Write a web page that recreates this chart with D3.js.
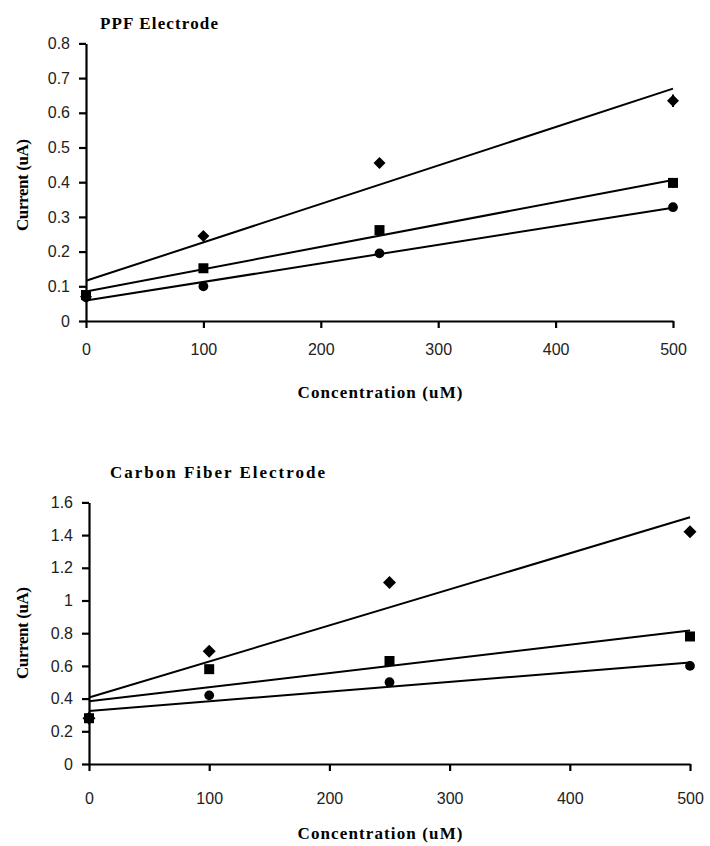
<!DOCTYPE html>
<html>
<head>
<meta charset="utf-8">
<script src="https://cdn.jsdelivr.net/npm/d3@7"></script>
<style>
  html, body { margin: 0; padding: 0; background: #fff; }
  svg { display: block; }
  .tick text { font-family: "Liberation Sans", Arial, sans-serif; font-size: 16px; fill: #222; }
  .title, .axis-title { font-family: "Liberation Serif", "Times New Roman", serif; font-weight: bold; fill: #000; }
</style>
</head>
<body>
<svg id="chart" width="710" height="846"></svg>
<script>
// Shared x values (concentration, uM)
const concentrations = [0, 100, 250, 500];
const xTicks = [0, 100, 200, 300, 400, 500];

// PPF electrode currents (uA)
const ppfDiamond = [0.07, 0.245, 0.455, 0.635];
const ppfSquare  = [0.075, 0.152, 0.262, 0.398];
const ppfCircle  = [0.068, 0.10, 0.195, 0.328];
const ppfDiamondErr = [0, 0.012, 0.012, 0.018];
const ppfSquareErr  = [0, 0.006, 0.012, 0.014];
const ppfCircleErr  = [0, 0.005, 0.005, 0.005];
const ppfYTicks = [0, 0.1, 0.2, 0.3, 0.4, 0.5, 0.6, 0.7, 0.8];

// Carbon fiber electrode currents (uA)
const cfDiamond = [0.28, 0.69, 1.11, 1.42];
const cfSquare  = [0.28, 0.58, 0.63, 0.78];
const cfCircle  = [0.28, 0.42, 0.50, 0.60];
const cfYTicks = [0, 0.2, 0.4, 0.6, 0.8, 1.0, 1.2, 1.4, 1.6];

const svg = d3.select("#chart");
const fmt = d3.format("~g");

// Least-squares straight line through one series
function fit(xs, ys) {
  const mx = d3.mean(xs), my = d3.mean(ys);
  const sxy = d3.sum(xs, (x, i) => (x - mx) * (ys[i] - my));
  const sxx = d3.sum(xs, x => (x - mx) * (x - mx));
  const slope = sxy / sxx;
  return { slope, intercept: my - slope * mx };
}

function panel(cfg) {
  const g = svg.append("g");
  const x = d3.scaleLinear().domain([0, 500]).range([cfg.left, cfg.right]);
  const y = d3.scaleLinear().domain([0, cfg.yMax]).range([cfg.bottom, cfg.top]);

  // axes
  const xAxis = g.append("g")
    .attr("transform", `translate(0,${cfg.bottom})`)
    .call(d3.axisBottom(x).tickValues(xTicks).tickSize(7).tickSizeOuter(0).tickPadding(cfg.xPad).tickFormat(fmt));
  const yAxis = g.append("g")
    .attr("transform", `translate(${cfg.left},0)`)
    .call(d3.axisLeft(y).tickValues(cfg.yTicks).tickSize(7).tickSizeOuter(0).tickPadding(9).tickFormat(fmt));
  [xAxis, yAxis].forEach(a => {
    a.select(".domain").attr("stroke", "#000").attr("stroke-width", 2.2);
    a.selectAll(".tick line").attr("stroke", "#000").attr("stroke-width", 2.2);
  });

  // trend lines
  cfg.series.forEach(s => {
    const f = fit(concentrations, s.values);
    g.append("line")
      .attr("x1", x(0)).attr("y1", y(f.intercept))
      .attr("x2", x(500)).attr("y2", y(f.intercept + f.slope * 500))
      .attr("stroke", "#000").attr("stroke-width", 2);
  });

  // error bars and markers
  cfg.series.forEach(s => {
    const pts = concentrations.map((c, i) => ({ c, v: s.values[i], e: s.errors ? s.errors[i] : 0 }));
    g.selectAll(null).data(pts.filter(d => d.e > 0)).enter().append("line")
      .attr("x1", d => x(d.c)).attr("x2", d => x(d.c))
      .attr("y1", d => y(d.v - d.e)).attr("y2", d => y(d.v + d.e))
      .attr("stroke", "#000").attr("stroke-width", 2);
    const sym = d3.symbol().type(d3.symbolSquare).size(s.size);
    const circ = d3.symbol().type(d3.symbolCircle).size(s.size);
    g.selectAll(null).data(pts).enter().append("path")
      .attr("d", s.shape === "circle" ? circ : sym)
      .attr("transform", d => `translate(${x(d.c)},${y(d.v)})` + (s.shape === "diamond" ? " rotate(45)" : ""))
      .attr("fill", "#000");
  });

  // titles
  g.append("text").attr("class", "title")
    .attr("x", cfg.titleX).attr("y", cfg.titleY)
    .attr("font-size", 17)
    .attr("textLength", cfg.titleLen).attr("lengthAdjust", "spacing")
    .text(cfg.title);
  g.append("text").attr("class", "axis-title")
    .attr("x", 380).attr("y", cfg.xTitleY)
    .attr("text-anchor", "middle").attr("font-size", 17)
    .attr("textLength", 165).attr("lengthAdjust", "spacing")
    .text("Concentration (uM)");
  g.append("text").attr("class", "axis-title")
    .attr("transform", `translate(28,${cfg.yTitleMid}) rotate(-90)`)
    .attr("text-anchor", "middle").attr("font-size", 17)
    .attr("textLength", 92).attr("lengthAdjust", "spacing")
    .text("Current (uA)");
}

panel({
  left: 86, right: 673, top: 43.4, bottom: 321, yMax: 0.8, yTicks: ppfYTicks, xPad: 16,
  title: "PPF Electrode", titleX: 100, titleY: 29, titleLen: 118,
  xTitleY: 398, yTitleMid: 185,
  series: [
    { values: ppfDiamond, errors: ppfDiamondErr, shape: "diamond", size: 72 },
    { values: ppfSquare, errors: ppfSquareErr, shape: "square", size: 100 },
    { values: ppfCircle, errors: ppfCircleErr, shape: "circle", size: 75 }
  ]
});

panel({
  left: 89, right: 690, top: 502.4, bottom: 764, yMax: 1.6, yTicks: cfYTicks, xPad: 22,
  title: "Carbon Fiber Electrode", titleX: 110, titleY: 478, titleLen: 215,
  xTitleY: 839, yTitleMid: 633,
  series: [
    { values: cfDiamond, shape: "diamond", size: 84 },
    { values: cfSquare, shape: "square", size: 100 },
    { values: cfCircle, shape: "circle", size: 75 }
  ]
});
</script>
</body>
</html>
